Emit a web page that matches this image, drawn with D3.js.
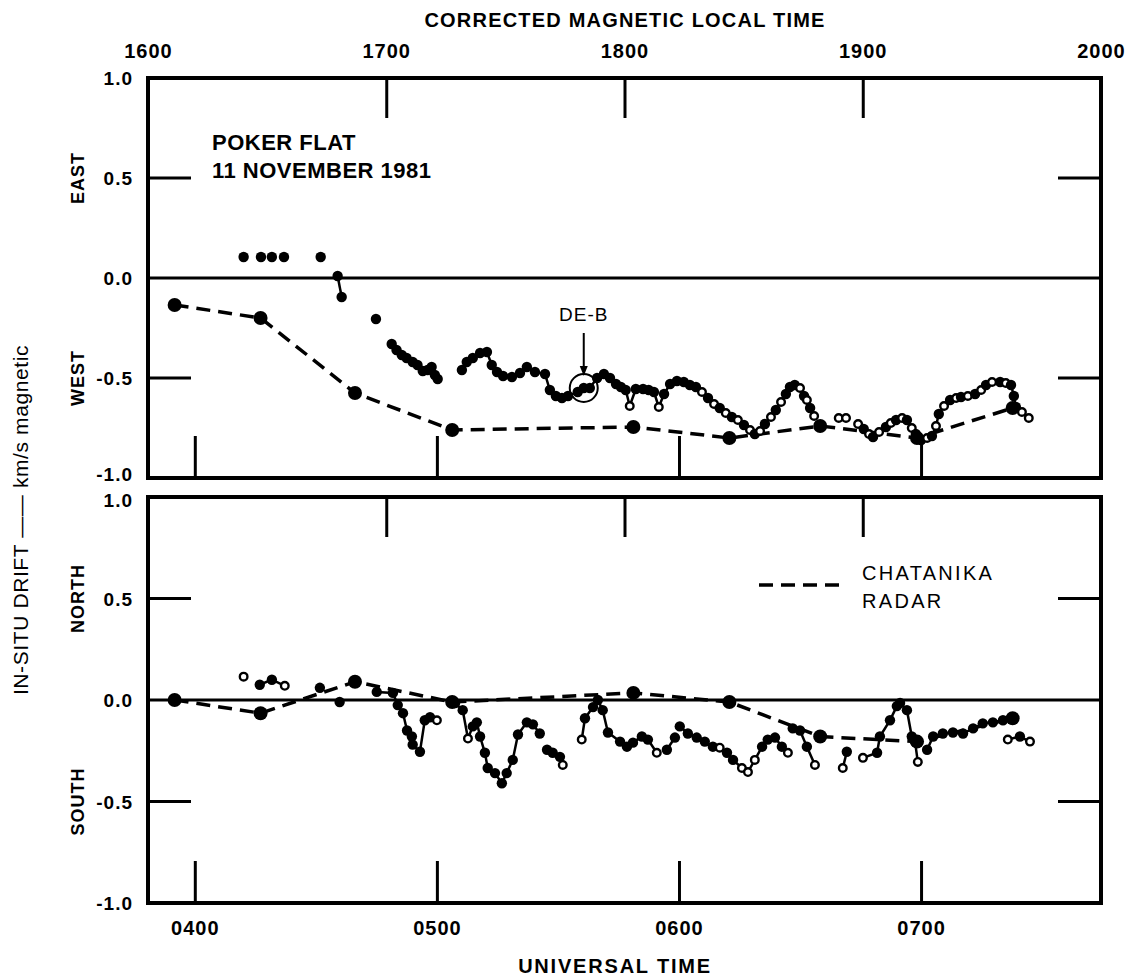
<!DOCTYPE html>
<html>
<head>
<meta charset="utf-8">
<script src="https://cdn.jsdelivr.net/npm/d3@7"></script>
<style>
body { margin: 0; background: #fff; }
svg text { font-family: "Liberation Sans", Arial, sans-serif; fill: #000; }
</style>
</head>
<body>
<svg id="chart" width="1133" height="979"></svg>
<script>
// times are UT minutes after 0000
const utDomain = [228.4, 464.6];
const cmltDomain = [16, 20];
const utTicks = [240, 300, 360, 420];
const utLabels = ["0400", "0500", "0600", "0700"];
const cmltTicks = [17, 18, 19];
const cmltLabelValues = [16, 17, 18, 19, 20];
const cmltLabels = ["1600", "1700", "1800", "1900", "2000"];
const yLabelValues = [1, 0.5, 0, -0.5, -1];
const yLabels = ["1.0", "0.5", "0.0", "-0.5", "-1.0"];
const yInnerTicks = [0.5, -0.5];

// Chatanika radar (dashed)
const radarTimes = [235.0, 256.3, 279.7, 303.8, 348.7, 372.5, 395.0, 419.0, 442.7];
const radarEastWest = [-0.135, -0.20, -0.575, -0.76, -0.745, -0.80, -0.74, -0.80, -0.65];
const radarNorthSouth = [0.0, -0.065, 0.09, -0.01, 0.035, -0.01, -0.18, -0.205, -0.09];

// in-situ drift, segments of [ut, value, hollow]
const insituEastWest = [
  [[252.1, 0.105]], [[256.4, 0.105]], [[259.1, 0.105]], [[262.1, 0.105]], [[271.2, 0.105]],
  [[275.4, 0.01], [276.4, -0.095]],
  [[284.9, -0.205]],
  [[288.8, -0.33], [290.0, -0.36], [291.3, -0.385], [292.5, -0.40], [294.0, -0.42], [295.2, -0.435],
   [296.5, -0.465], [297.7, -0.46], [298.7, -0.445], [299.5, -0.485], [300.2, -0.505]],
  [[306.2, -0.46], [307.4, -0.42], [308.9, -0.40], [310.7, -0.375], [312.4, -0.37], [313.6, -0.435],
   [314.9, -0.47], [316.4, -0.49], [318.6, -0.495], [320.6, -0.475], [322.3, -0.445], [324.3, -0.47],
   [326.8, -0.48], [328.0, -0.56], [329.5, -0.59], [331.0, -0.60], [332.5, -0.59], [334.9, -0.57],
   [336.4, -0.55], [337.9, -0.55], [339.7, -0.50], [341.4, -0.48], [342.9, -0.50], [344.4, -0.53],
   [345.6, -0.545], [346.8, -0.56], [347.8, -0.64, 1], [349.3, -0.555], [351.1, -0.555], [352.5, -0.56],
   [353.8, -0.57], [355.0, -0.645, 1], [356.3, -0.58], [357.8, -0.53], [359.5, -0.515], [361.2, -0.52],
   [362.7, -0.535], [364.2, -0.545], [365.7, -0.57, 1], [367.2, -0.60], [368.7, -0.63, 1], [370.1, -0.65],
   [371.6, -0.675, 1], [373.1, -0.695], [374.6, -0.71, 1], [376.1, -0.735], [377.6, -0.76, 1], [378.8, -0.78],
   [380.1, -0.765, 1], [381.3, -0.73], [382.8, -0.695, 1], [384.0, -0.66], [385.3, -0.62, 1], [386.5, -0.58],
   [387.5, -0.545], [388.7, -0.535], [390.0, -0.55, 1], [391.0, -0.59], [391.7, -0.61, 1], [392.5, -0.65],
   [393.5, -0.69, 1]],
  [[399.6, -0.70, 1], [401.4, -0.70, 1]],
  [[404.4, -0.73, 1], [405.8, -0.755], [407.1, -0.78, 1], [408.1, -0.795], [409.6, -0.77, 1], [411.3, -0.745],
   [412.5, -0.725, 1], [413.8, -0.71], [415.3, -0.70, 1], [416.5, -0.71], [417.7, -0.75, 1], [418.7, -0.78],
   [420.0, -0.81], [421.5, -0.80, 1], [422.7, -0.79], [423.7, -0.74, 1], [424.4, -0.68], [425.7, -0.64, 1],
   [427.2, -0.61], [428.7, -0.60, 1], [429.9, -0.595], [431.6, -0.59, 1], [433.4, -0.58], [434.9, -0.56, 1],
   [436.1, -0.535], [437.6, -0.52, 1], [439.6, -0.52], [441.0, -0.525, 1], [442.3, -0.535], [443.0, -0.59],
   [443.5, -0.645], [445.0, -0.67, 1], [446.7, -0.70, 1]]
];

const insituNorthSouth = [
  [[252.1, 0.115, 1]],
  [[256.1, 0.075], [259.1, 0.10], [262.3, 0.07, 1]],
  [[271.0, 0.06]],
  [[275.9, -0.01]],
  [[285.1, 0.04], [289.1, 0.035], [290.3, -0.025], [291.6, -0.065], [292.6, -0.15], [293.8, -0.18],
   [294.0, -0.22], [295.8, -0.255], [297.0, -0.10], [298.3, -0.085], [300.0, -0.10, 1]],
  [[304.5, -0.015], [306.4, -0.05], [307.7, -0.19, 1], [308.9, -0.13], [309.9, -0.11], [310.7, -0.18],
   [311.9, -0.26], [312.6, -0.335], [314.4, -0.36], [316.1, -0.41], [317.3, -0.36], [318.8, -0.295],
   [320.1, -0.17], [322.3, -0.11], [323.8, -0.12], [325.5, -0.165]],
  [[327.3, -0.245], [328.7, -0.26], [330.5, -0.28], [331.2, -0.32, 1]],
  [[335.9, -0.195, 1], [336.7, -0.09], [338.7, -0.035], [339.9, 0.0], [341.1, -0.05], [342.4, -0.16],
   [345.4, -0.205], [347.1, -0.23], [348.6, -0.21], [350.8, -0.18], [352.3, -0.195], [354.5, -0.26, 1]],
  [[357.0, -0.245], [359.0, -0.185]],
  [[360.2, -0.13], [362.2, -0.165], [364.4, -0.185], [366.4, -0.205], [368.4, -0.23], [370.1, -0.235, 1],
   [371.9, -0.26], [373.4, -0.295], [375.6, -0.335, 1], [377.1, -0.355, 1], [378.8, -0.295, 1], [380.6, -0.23],
   [382.0, -0.195], [383.8, -0.185], [385.5, -0.23], [387.0, -0.26, 1]],
  [[388.2, -0.14], [390.0, -0.15], [391.7, -0.23], [393.7, -0.32, 1]],
  [[400.6, -0.335, 1], [401.6, -0.255]],
  [[405.6, -0.285, 1], [409.1, -0.26], [409.8, -0.18], [412.3, -0.10], [414.0, -0.03], [414.8, -0.015],
   [416.5, -0.05], [417.7, -0.18], [418.5, -0.205], [419.2, -0.305, 1]],
  [[421.5, -0.245], [423.0, -0.18], [425.4, -0.165], [427.9, -0.16], [430.4, -0.165], [432.9, -0.14],
   [435.3, -0.115], [437.8, -0.11], [440.3, -0.10], [442.5, -0.085]],
  [[441.5, -0.195, 1], [444.5, -0.18], [447.0, -0.205, 1]]
];

const svg = d3.select("#chart");
const left = 148, right = 1101;
const panels = [
  {top: 78, bottom: 478, radar: radarEastWest, insitu: insituEastWest, upper: "EAST", lower: "WEST"},
  {top: 497, bottom: 903, radar: radarNorthSouth, insitu: insituNorthSouth, upper: "NORTH", lower: "SOUTH"}
];

const x = d3.scaleLinear().domain(utDomain).range([left, right]);
const xc = d3.scaleLinear().domain(cmltDomain).range([left, right]);

panels.forEach(function (p, pi) {
  const y = d3.scaleLinear().domain([-1, 1]).range([p.bottom, p.top]);
  const g = svg.append("g");

  // zero line
  g.append("line").attr("x1", left).attr("x2", right)
    .attr("y1", y(0)).attr("y2", y(0))
    .attr("stroke", "#000").attr("stroke-width", 3);

  // inner ticks
  g.selectAll(".yl").data(yInnerTicks).enter().append("line")
    .attr("x1", left).attr("x2", left + 43)
    .attr("y1", d => y(d)).attr("y2", d => y(d))
    .attr("stroke", "#000").attr("stroke-width", 3);
  g.selectAll(".yr").data(yInnerTicks).enter().append("line")
    .attr("x1", right - 43).attr("x2", right)
    .attr("y1", d => y(d)).attr("y2", d => y(d))
    .attr("stroke", "#000").attr("stroke-width", 3);

  // UT ticks up from bottom, CMLT ticks down from top
  g.append("g").attr("transform", "translate(0," + p.bottom + ")")
    .call(d3.axisTop(x).tickValues(utTicks).tickSize(42).tickFormat(""))
    .call(a => a.select(".domain").remove())
    .call(a => a.selectAll("line").attr("stroke-width", 3));
  g.append("g").attr("transform", "translate(0," + p.top + ")")
    .call(d3.axisBottom(xc).tickValues(cmltTicks).tickSize(40).tickFormat(""))
    .call(a => a.select(".domain").remove())
    .call(a => a.selectAll("line").attr("stroke-width", 3));

  // box
  g.append("rect").attr("x", left).attr("y", p.top)
    .attr("width", right - left).attr("height", p.bottom - p.top)
    .attr("fill", "none").attr("stroke", "#000").attr("stroke-width", 4);

  // y labels (end labels nudged so the two panels' labels do not collide)
  g.selectAll(".ylab").data(yLabelValues).enter().append("text")
    .attr("x", 133)
    .attr("y", d => y(d) + (d === -1 && pi === 0 ? 3 : (d === 1 && pi === 1 ? 10 : 7)))
    .attr("text-anchor", "end")
    .style("font-size", "19px").style("font-weight", "bold").style("letter-spacing", "1px")
    .text((d, i) => yLabels[i]);

  g.append("text").attr("transform", "translate(84," + y(0.5) + ") rotate(-90)")
    .attr("text-anchor", "middle")
    .style("font-size", "18px").style("font-weight", "bold").style("letter-spacing", "1px")
    .text(p.upper);
  g.append("text").attr("transform", "translate(84," + y(-0.5) + ") rotate(-90)")
    .attr("text-anchor", "middle")
    .style("font-size", "18px").style("font-weight", "bold").style("letter-spacing", "1px")
    .text(p.lower);

  // radar dashed line
  const radarPts = radarTimes.map((t, i) => [t, p.radar[i]]);
  const line = d3.line().x(d => x(d[0])).y(d => y(d[1]));
  g.append("path").datum(radarPts).attr("d", line)
    .attr("fill", "none").attr("stroke", "#000").attr("stroke-width", 3.5)
    .attr("stroke-dasharray", "14,8");
  g.selectAll(".rdot").data(radarPts).enter().append("circle")
    .attr("cx", d => x(d[0])).attr("cy", d => y(d[1])).attr("r", 7).attr("fill", "#000");

  // in-situ
  const segs = g.selectAll(".seg").data(p.insitu).enter().append("g");
  segs.append("path").attr("d", line)
    .attr("fill", "none").attr("stroke", "#000").attr("stroke-width", 2.5);
  segs.selectAll("circle").data(d => d).enter().append("circle")
    .attr("cx", d => x(d[0])).attr("cy", d => y(d[1]))
    .attr("r", d => d[2] ? 3.8 : 5.2)
    .attr("fill", d => d[2] ? "#fff" : "#000")
    .attr("stroke", "#000").attr("stroke-width", d => d[2] ? 2.4 : 0);

  if (pi === 0) {
    // DE-B marker
    const cx = x(336.4), cy = y(-0.55);
    g.append("circle").attr("cx", cx).attr("cy", cy).attr("r", 14)
      .attr("fill", "none").attr("stroke", "#000").attr("stroke-width", 2);
    g.append("line").attr("x1", cx).attr("x2", cx).attr("y1", y(-0.275)).attr("y2", y(-0.44))
      .attr("stroke", "#000").attr("stroke-width", 2);
    g.append("path")
      .attr("d", "M" + (cx - 4) + "," + y(-0.44) + "L" + (cx + 4) + "," + y(-0.44) + "L" + cx + "," + y(-0.49) + "Z")
      .attr("fill", "#000");
    g.append("text").attr("x", cx).attr("y", y(-0.215))
      .attr("text-anchor", "middle")
      .style("font-size", "19px").style("letter-spacing", "1px").text("DE-B");

    g.append("text").attr("x", 212).attr("y", 150)
      .style("font-size", "22px").style("font-weight", "bold").style("letter-spacing", "0.5px")
      .text("POKER FLAT");
    g.append("text").attr("x", 212).attr("y", 178)
      .style("font-size", "22px").style("font-weight", "bold").style("letter-spacing", "0.5px")
      .text("11 NOVEMBER 1981");
  } else {
    // legend
    g.append("line").attr("x1", 759).attr("x2", 840).attr("y1", 585).attr("y2", 585)
      .attr("stroke", "#000").attr("stroke-width", 3.5).attr("stroke-dasharray", "14,8");
    g.append("text").attr("x", 862).attr("y", 580)
      .style("font-size", "20px").style("letter-spacing", "2.3px").text("CHATANIKA");
    g.append("text").attr("x", 862).attr("y", 608)
      .style("font-size", "20px").style("letter-spacing", "2.3px").text("RADAR");
  }
});

// UT labels
svg.append("g").attr("transform", "translate(0,903)")
  .call(d3.axisBottom(x).tickValues(utTicks).tickSize(0).tickPadding(18)
    .tickFormat((d, i) => utLabels[i]))
  .call(a => a.select(".domain").remove())
  .call(a => a.selectAll("text").style("font-size", "20px").style("font-weight", "bold")
    .style("letter-spacing", "1px").style("font-family", "Liberation Sans, Arial, sans-serif"));

// CMLT labels
svg.append("g").attr("transform", "translate(0,58)")
  .call(d3.axisTop(xc).tickValues(cmltLabelValues).tickSize(0).tickPadding(0)
    .tickFormat((d, i) => cmltLabels[i]))
  .call(a => a.select(".domain").remove())
  .call(a => a.selectAll("text").style("font-size", "20px").style("font-weight", "bold")
    .style("letter-spacing", "1px").style("font-family", "Liberation Sans, Arial, sans-serif")
    .attr("dy", "0"));

svg.append("text").attr("x", 625).attr("y", 27).attr("text-anchor", "middle")
  .style("font-size", "20px").style("font-weight", "bold").style("letter-spacing", "1.2px")
  .text("CORRECTED MAGNETIC LOCAL TIME");
svg.append("text").attr("x", 615).attr("y", 973).attr("text-anchor", "middle")
  .style("font-size", "20px").style("font-weight", "bold").style("letter-spacing", "1.8px")
  .text("UNIVERSAL TIME");
svg.append("text").attr("transform", "translate(28,520) rotate(-90)").attr("text-anchor", "middle")
  .style("font-size", "21px").style("letter-spacing", "0.6px")
  .text("IN-SITU DRIFT —— km/s magnetic");
</script>
</body>
</html>
